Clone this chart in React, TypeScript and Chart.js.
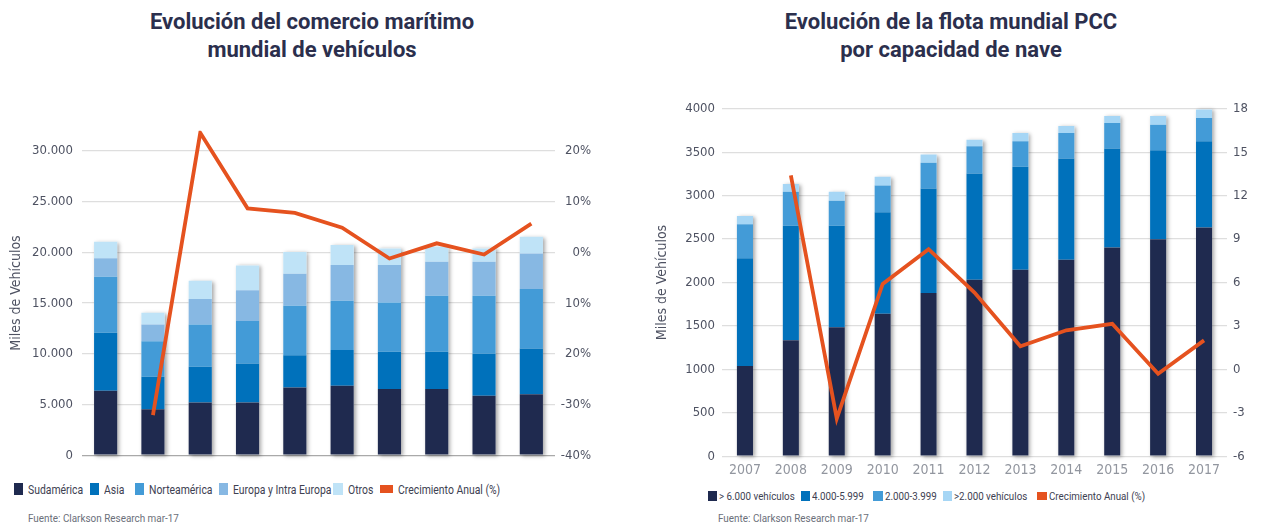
import React, { useEffect, useRef } from "react";
import { Chart, registerables } from "chart.js";

Chart.register(...registerables);

// ---------- Left chart data: comercio marítimo (miles de vehículos) ----------
const tradeYears = ["2008", "2009", "2010", "2011", "2012", "2013", "2014", "2015", "2016", "2017"];
const sudamerica = [6350, 4540, 5200, 5200, 6680, 6840, 6520, 6520, 5860, 6020];
const asia = [5720, 3190, 3520, 3850, 3190, 3530, 3680, 3680, 4180, 4510];
const norteamerica = [5530, 3520, 4180, 4180, 4870, 4860, 4870, 5530, 5690, 5860];
const europa = [1820, 1650, 2500, 3030, 3160, 3530, 3690, 3350, 3350, 3510];
const otros = [1640, 1150, 1800, 2460, 2140, 1970, 1640, 1480, 1320, 1650];
const tradeGrowth = [null, -32.1, 23.6, 8.7, 7.8, 4.9, -1.2, 1.8, -0.4, 5.7];
const tradeTicks = [0, 5000, 10000, 15000, 20000, 25000, 30000];
const tradeGrowthTicks = [-40, -30, -20, -10, 0, 10, 20];
const tradeGrowthTickLabels = ["-40%", "-30%", "20%", "10%", "0%", "10%", "20%"];

// ---------- Right chart data: flota mundial PCC ----------
const fleetYears = ["2007", "2008", "2009", "2010", "2011", "2012", "2013", "2014", "2015", "2016", "2017"];
const over6000 = [1040, 1334, 1486, 1639, 1880, 2033, 2148, 2262, 2403, 2499, 2633];
const cap4000 = [1240, 1318, 1166, 1169, 1203, 1222, 1184, 1165, 1139, 1024, 993];
const cap2000 = [390, 393, 290, 309, 295, 314, 294, 295, 294, 294, 267];
const under2000 = [96, 88, 103, 100, 95, 76, 96, 80, 80, 99, 100];
const fleetGrowth = [null, 13.4, -3.4, 5.9, 8.3, 5.3, 1.6, 2.7, 3.15, -0.3, 2.0];

const FONT = "'DejaVu Sans Condensed', 'Roboto', sans-serif";
const HTML_FONT = "'Roboto', sans-serif";
const TITLE_FONT = "'Roboto', 'Liberation Sans', sans-serif";
const NAVY = "#1f2a4f";
const BLUE = "#0071bb";
const MID = "#439bd7";
const LIGHT = "#87b8e3";
const PALE = "#bfe3f7";
const PALE2 = "#a6d6f5";
const ORANGE = "#e5521f";
const GRID = "#dedede";
const TICK = "#4e5262";

const barShadow = {
  id: "barShadow",
  beforeDatasetsDraw(chart: any) {
    const ctx = chart.ctx;
    const metas = chart.getSortedVisibleDatasetMetas().filter((m: any) => m.type === "bar");
    const n = chart.data.labels.length;
    ctx.save();
    ctx.shadowColor = "rgba(0,0,0,0.35)";
    ctx.shadowBlur = 4;
    ctx.shadowOffsetX = 2;
    ctx.shadowOffsetY = 1;
    ctx.fillStyle = "#ffffff";
    for (let i = 0; i < n; i++) {
      let top = Infinity;
      let bottom = -Infinity;
      let x = 0;
      let w = 0;
      for (const m of metas) {
        const el = m.data[i];
        if (!el) continue;
        const p = el.getProps(["x", "y", "base", "width"], true);
        top = Math.min(top, p.y, p.base);
        bottom = Math.max(bottom, p.y, p.base);
        x = p.x;
        w = p.width;
      }
      if (isFinite(top)) ctx.fillRect(x - w / 2, top, w, bottom - top);
    }
    ctx.restore();
  },
};

function useChart(ref: React.RefObject<HTMLCanvasElement>, makeConfig: () => any) {
  useEffect(() => {
    if (!ref.current) return;
    const chart = new Chart(ref.current, makeConfig());
    return () => chart.destroy();
  }, []);
}

function formatThousands(v: number) {
  return String(Math.round(v)).replace(/\B(?=(\d{3})+(?!\d))/g, ".");
}

function TradeChart() {
  const ref = useRef<HTMLCanvasElement>(null);
  useChart(ref, () => ({
    type: "bar",
    data: {
      labels: tradeYears,
      datasets: [
        { label: "Sudamérica", data: sudamerica, backgroundColor: NAVY, stack: "s", order: 1 },
        { label: "Asia", data: asia, backgroundColor: BLUE, stack: "s", order: 1 },
        { label: "Norteamérica", data: norteamerica, backgroundColor: MID, stack: "s", order: 1 },
        { label: "Europa y Intra Europa", data: europa, backgroundColor: LIGHT, stack: "s", order: 1 },
        { label: "Otros", data: otros, backgroundColor: PALE, stack: "s", order: 1 },
        {
          type: "line",
          label: "Crecimiento Anual (%)",
          data: tradeGrowth,
          yAxisID: "y1",
          borderColor: ORANGE,
          backgroundColor: ORANGE,
          borderWidth: 3.8,
          pointRadius: 0,
          tension: 0,
          order: 0,
        },
      ],
    },
    options: {
      animation: false,
      responsive: true,
      maintainAspectRatio: false,
      layout: { padding: 0 },
      datasets: { bar: { categoryPercentage: 1, barPercentage: 0.49 } },
      plugins: { legend: { display: false }, tooltip: { enabled: false } },
      scales: {
        x: { display: false, stacked: true },
        y: {
          stacked: true,
          position: "left",
          min: 0,
          max: 32000,
          border: { display: false },
          afterBuildTicks: (s: any) => {
            s.ticks = tradeTicks.map((v) => ({ value: v }));
          },
          afterFit: (s: any) => {
            s.width = 82;
          },
          ticks: {
            padding: 9,
            autoSkip: false,
            color: TICK,
            font: { family: FONT, size: 13 },
            callback: (v: number) => formatThousands(v),
          },
          grid: {
            drawTicks: false,
            color: (c: any) => (c.tick && c.tick.value === 0 ? "#a9a9a9" : GRID),
            lineWidth: 1.3,
          },
          title: {
            display: true,
            text: "Miles de Vehículos",
            color: TICK,
            font: { family: FONT, size: 14 },
            padding: { top: 8, bottom: 0 },
          },
        },
        y1: {
          position: "right",
          min: -40,
          max: 24,
          border: { display: false },
          afterBuildTicks: (s: any) => {
            s.ticks = tradeGrowthTicks.map((v) => ({ value: v }));
          },
          afterFit: (s: any) => {
            s.width = 36;
          },
          ticks: {
            padding: 3,
            autoSkip: false,
            crossAlign: "far",
            color: TICK,
            font: { family: FONT, size: 13 },
            callback: (v: number) => {
              const i = tradeGrowthTicks.indexOf(v);
              return i >= 0 ? tradeGrowthTickLabels[i] : "";
            },
          },
          grid: { display: false, drawTicks: false },
        },
      },
    },
    plugins: [barShadow],
  }));
  return (
    <div style={{ position: "absolute", left: 0, top: 114, width: 591, height: 358 }}>
      <canvas ref={ref} />
    </div>
  );
}

function FleetChart() {
  const ref = useRef<HTMLCanvasElement>(null);
  useChart(ref, () => ({
    type: "bar",
    data: {
      labels: fleetYears,
      datasets: [
        { label: "> 6.000 vehículos", data: over6000, backgroundColor: NAVY, stack: "s", order: 1 },
        { label: "4.000-5.999", data: cap4000, backgroundColor: BLUE, stack: "s", order: 1 },
        { label: "2.000-3.999", data: cap2000, backgroundColor: MID, stack: "s", order: 1 },
        { label: ">2.000 vehículos", data: under2000, backgroundColor: PALE2, stack: "s", order: 1 },
        {
          type: "line",
          label: "Crecimiento Anual (%)",
          data: fleetGrowth,
          yAxisID: "y1",
          borderColor: ORANGE,
          backgroundColor: ORANGE,
          borderWidth: 3.8,
          pointRadius: 0,
          tension: 0,
          order: 0,
        },
      ],
    },
    options: {
      animation: false,
      responsive: true,
      maintainAspectRatio: false,
      layout: { padding: { top: 0, bottom: 7.3, left: 0, right: 0 } },
      datasets: { bar: { categoryPercentage: 1, barPercentage: 0.35 } },
      plugins: { legend: { display: false }, tooltip: { enabled: false } },
      scales: {
        x: {
          stacked: true,
          border: { display: false },
          grid: { display: false, drawTicks: false },
          afterFit: (s: any) => {
            s.height = 22;
          },
          ticks: { padding: 6, color: "#92969f", font: { family: FONT, size: 14 } },
        },
        y: {
          stacked: true,
          position: "left",
          min: 0,
          max: 4000,
          border: { display: false },
          afterFit: (s: any) => {
            s.width = 82;
          },
          ticks: {
            stepSize: 500,
            padding: 7,
            color: TICK,
            font: { family: FONT, size: 13 },
            callback: (v: number) => String(v),
          },
          grid: { drawTicks: false, color: GRID, lineWidth: 1.3 },
          title: {
            display: true,
            text: "Miles de Vehículos",
            color: TICK,
            font: { family: FONT, size: 14 },
            padding: { top: 14, bottom: 0 },
          },
        },
        y1: {
          position: "right",
          min: -6,
          max: 18,
          border: { display: false },
          afterFit: (s: any) => {
            s.width = 41;
          },
          ticks: { stepSize: 3, padding: 6, color: TICK, font: { family: FONT, size: 13 } },
          grid: { display: false, drawTicks: false },
        },
      },
    },
    plugins: [barShadow],
  }));
  return (
    <div style={{ position: "absolute", left: 640, top: 93.5, width: 628, height: 391.5 }}>
      <canvas ref={ref} />
    </div>
  );
}

type LegendItem = { label: string; color: string; x: number; w: number; h: number };

const tradeLegend: LegendItem[] = [
  { label: "Sudamérica", color: NAVY, x: 14, w: 9, h: 12 },
  { label: "Asia", color: BLUE, x: 90, w: 9, h: 12 },
  { label: "Norteamérica", color: MID, x: 135, w: 9, h: 12 },
  { label: "Europa y Intra Europa", color: LIGHT, x: 219, w: 9, h: 12 },
  { label: "Otros", color: PALE, x: 333, w: 10, h: 12 },
  { label: "Crecimiento Anual (%)", color: ORANGE, x: 380, w: 13, h: 8 },
];

const fleetLegend: LegendItem[] = [
  { label: "> 6.000 vehículos", color: NAVY, x: 708, w: 9, h: 10 },
  { label: "4.000-5.999", color: BLUE, x: 801, w: 9, h: 10 },
  { label: "2.000-3.999", color: MID, x: 873, w: 10, h: 10 },
  { label: ">2.000 vehículos", color: PALE2, x: 943, w: 9, h: 10 },
  { label: "Crecimiento Anual (%)", color: ORANGE, x: 1037, w: 10, h: 8 },
];

function Legend({ items, y, size, gap, squeeze }: { items: LegendItem[]; y: number; size: number; gap: number; squeeze: number }) {
  return (
    <>
      {items.map((it) => (
        <div
          key={it.label}
          style={{
            position: "absolute",
            left: it.x,
            top: y - 10,
            height: 20,
            display: "flex",
            alignItems: "center",
            whiteSpace: "nowrap",
            fontFamily: HTML_FONT,
            fontSize: size,
            color: "#3d4152",
          }}
        >
          <span style={{ display: "inline-block", width: it.w, height: it.h, background: it.color, marginRight: gap, flex: "none" }} />
          <span style={{ display: "inline-block", transform: `scaleX(${squeeze})`, transformOrigin: "left center" }}>{it.label}</span>
        </div>
      ))}
    </>
  );
}

const titleStyle: React.CSSProperties = {
  position: "absolute",
  top: 8,
  width: 600,
  textAlign: "center",
  fontFamily: TITLE_FONT,
  fontWeight: 700,
  fontSize: 22,
  lineHeight: "28px",
  color: "#2b2f4d",
};

const sourceStyle: React.CSSProperties = {
  position: "absolute",
  top: 512,
  fontFamily: HTML_FONT,
  fontSize: 11,
  color: "#6b6f7a",
  whiteSpace: "nowrap",
  transform: "scaleX(0.9)",
  transformOrigin: "left center",
};

export default function App() {
  return (
    <div style={{ position: "absolute", left: 0, top: 0, width: 1268, height: 527, background: "#ffffff", overflow: "hidden" }}>
      <div style={{ ...titleStyle, left: 12 }}>
        Evolución del comercio marítimo
        <br />
        mundial de vehículos
      </div>
      <div style={{ ...titleStyle, left: 651 }}>
        Evolución de la flota mundial PCC
        <br />
        por capacidad de nave
      </div>
      <TradeChart />
      <FleetChart />
      <Legend items={tradeLegend} y={489} size={13} gap={5} squeeze={0.8} />
      <Legend items={fleetLegend} y={496} size={11.5} gap={2} squeeze={0.85} />
      <div style={{ ...sourceStyle, left: 28 }}>Fuente: Clarkson Research mar-17</div>
      <div style={{ ...sourceStyle, left: 718 }}>Fuente: Clarkson Research mar-17</div>
    </div>
  );
}
